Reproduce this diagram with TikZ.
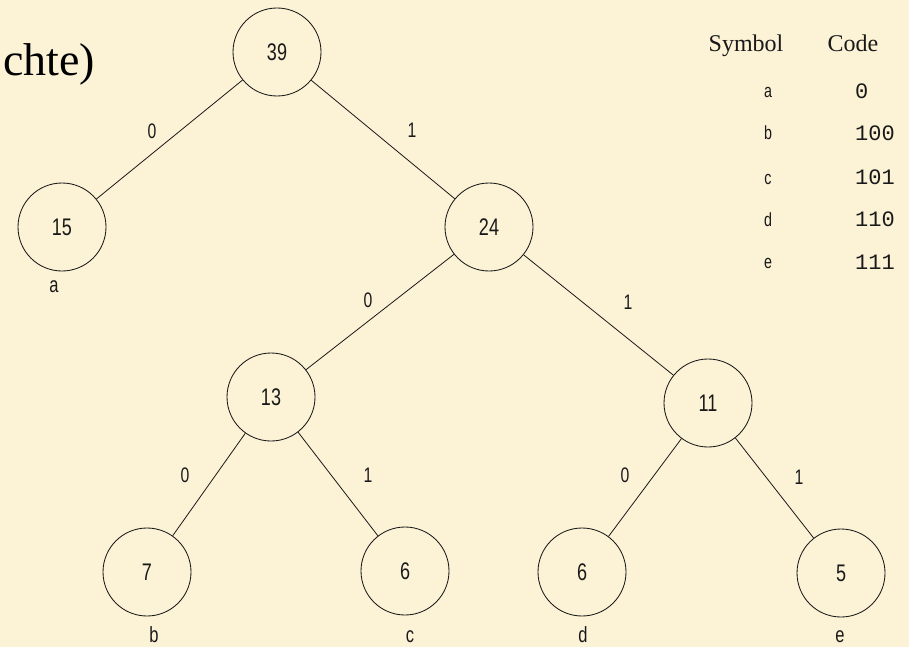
\documentclass[tikz,border=0pt]{standalone}
\usepackage{fontspec}
\setmainfont{Liberation Serif}
\newfontfamily\treefont[FakeStretch=0.75]{Liberation Sans}
\newfontfamily\codefont{Liberation Mono}
\definecolor{paper}{RGB}{252,242,214}
\definecolor{ink}{RGB}{25,25,25}
\tikzset{
  weight/.style={circle, draw=ink, line width=0.85pt, minimum size=88pt, inner sep=0pt,
                 font=\treefont\fontsize{24}{24}\selectfont, text=ink},
  branch/.style={draw=ink, line width=0.8pt},
  bit/.style={font=\treefont\fontsize{21}{21}\selectfont, text=ink, inner sep=0pt},
  leafname/.style={font=\treefont\fontsize{22}{22}\selectfont, text=ink, inner sep=0pt, anchor=base},
  tabhead/.style={font=\fontsize{24}{24}\selectfont, text=ink, inner sep=0pt, anchor=base},
  tabsym/.style={font=\treefont\fontsize{19}{19}\selectfont, text=ink, inner sep=0pt, anchor=base},
  tabcode/.style={font=\codefont\fontsize{22}{22}\selectfont, text=ink, inner sep=0pt, anchor=base west},
}
\begin{document}
\begin{tikzpicture}[x=1pt,y=-1pt]
  \fill[paper] (0,0) rectangle (909,647);
  \useasboundingbox (0,0) rectangle (909,647);

  % heading fragment
  \node[anchor=base west, inner sep=0pt, font=\fontsize{46}{46}\selectfont] (head) at (3,76) {chte)};

  % Huffman tree
  \node[weight] (n39) at (277,52)  {39};
  \node[weight] (n15) at (62,227)  {15};
  \node[weight] (n24) at (489,227) {24};
  \node[weight] (n13) at (271,397) {13};
  \node[weight] (n11) at (708,403) {11};
  \node[weight] (n7)  at (147,572) {7};
  \node[weight] (n6c) at (405,571) {6};
  \node[weight] (n6d) at (582,572) {6};
  \node[weight] (n5)  at (841,573) {5};

  \draw[branch] (n39) -- (n15);
  \draw[branch] (n39) -- (n24);
  \draw[branch] (n24) -- (n13);
  \draw[branch] (n24) -- (n11);
  \draw[branch] (n13) -- (n7);
  \draw[branch] (n13) -- (n6c);
  \draw[branch] (n11) -- (n6d);
  \draw[branch] (n11) -- (n5);

  % branch bits
  \node[bit] (b1) at (152,131) {0};
  \node[bit] (b2) at (412,130) {1};
  \node[bit] (b3) at (368,300) {0};
  \node[bit] (b4) at (628,302) {1};
  \node[bit] (b5) at (185,475) {0};
  \node[bit] (b6) at (368,475) {1};
  \node[bit] (b7) at (625,475) {0};
  \node[bit] (b8) at (799,477) {1};

  % leaf symbols
  \node[leafname] (la) at (54,292)  {a};
  \node[leafname] (lb) at (154,642) {b};
  \node[leafname] (lc) at (410,642) {c};
  \node[leafname] (ld) at (583,642) {d};
  \node[leafname] (le) at (840,642) {e};

  % code table
  \node[tabhead] (hs) at (746,52) {Symbol};
  \node[tabhead] (hc) at (853,52) {Code};
  \node[tabsym] (sa) at (768,98)  {a};
  \node[tabsym] (sb) at (768,140) {b};
  \node[tabsym] (sc) at (768,184) {c};
  \node[tabsym] (sd) at (768,226) {d};
  \node[tabsym] (se) at (768,268) {e};
  \node[tabcode] (ca) at (855,99)  {0};
  \node[tabcode] (cb) at (855,141) {100};
  \node[tabcode] (cc) at (855,184) {101};
  \node[tabcode] (cd) at (855,226) {110};
  \node[tabcode] (ce) at (855,269) {111};
\end{tikzpicture}
\end{document}
